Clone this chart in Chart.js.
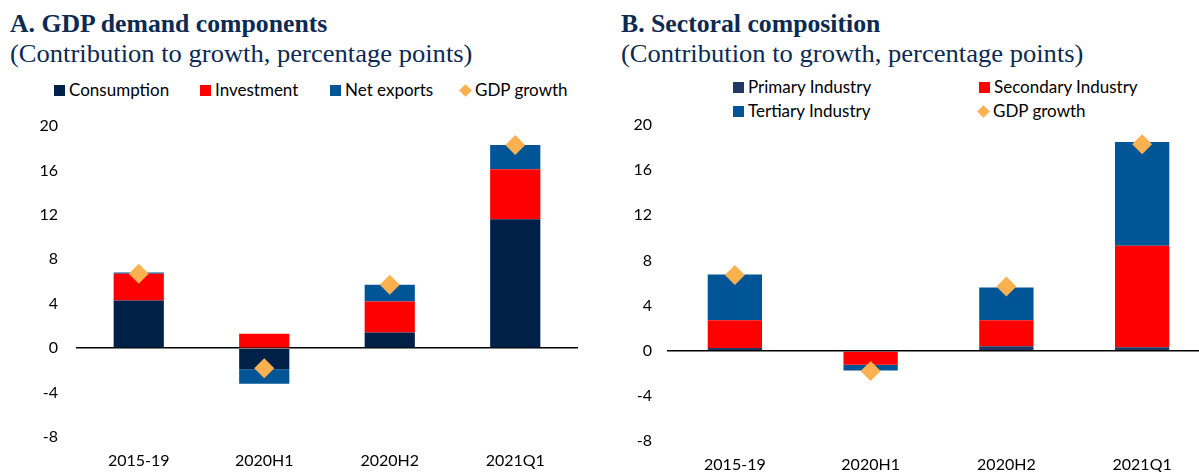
<!DOCTYPE html>
<html>
<head>
<meta charset="utf-8">
<script src="https://cdn.jsdelivr.net/npm/chart.js@4.4.1/dist/chart.umd.min.js"></script>
<style>
  body { margin: 0; width: 1199px; height: 472px; overflow: hidden; background: #fff; position: relative; }
  .ttl { position: absolute; font-family: "Liberation Serif", serif; color: #0c2a52; white-space: nowrap; font-size: 24.5px; line-height: 28px; transform-origin: 0 0; }
  .ttl.main { font-weight: bold; transform: scaleX(1.05); }
  .ttl.sub { transform: scaleX(1.084); }
  .leg { position: absolute; font-family: Lato, "Noto Sans", sans-serif; font-size: 17px; color: #000; white-space: nowrap; line-height: 18px; }
  .leg i { position: absolute; width: 11px; height: 11px; top: 4px; }
  .leg i.dia { width: 9px; height: 9px; transform: rotate(45deg); top: 5px; }
  canvas { position: absolute; top: 0; }
</style>
</head>
<body>
<div class="ttl main" style="left:10px; top:10px">A. GDP demand components</div>
<div class="ttl sub" style="left:10px; top:40px">(Contribution to growth, percentage points)</div>
<div class="ttl main" style="left:621px; top:10px">B. Sectoral composition</div>
<div class="ttl sub" style="left:621px; top:40px">(Contribution to growth, percentage points)</div>
<div id="legA"></div>
<div id="legB"></div>
<canvas id="chartA" width="600" height="472" style="left:0; width:600px; height:472px"></canvas>
<canvas id="chartB" width="620" height="472" style="left:600px; width:620px; height:472px"></canvas>
<script>
const periods = ["2015-19", "2020H1", "2020H2", "2021Q1"];

// panel A: demand components
const consumption = [4.3, -1.9, 1.4, 11.6];
const investment = [2.4, 1.3, 2.8, 4.5];
const net_exports = [0.1, -1.3, 1.5, 2.2];
const gdp_growth_a = [6.7, -1.8, 5.7, 18.3];

// panel B: sectors
const primary_ind = [0.25, -0.1, 0.4, 0.3];
const secondary_ind = [2.45, -1.15, 2.3, 9.0];
const tertiary_ind = [4.05, -0.5, 2.9, 9.2];
const gdp_growth_b = [6.7, -1.8, 5.7, 18.3];

const y_ticks = [-8, -4, 0, 4, 8, 12, 16, 20];

const navy = "#002147";
const red = "#ff0000";
const blue = "#005596";
const primary_col = "#203864";
const orange = "#fbb14f";

// legends (html)
function make_legend(id, items) {
    const box = document.getElementById(id);
    items.forEach(it => {
        const d = document.createElement('div');
        d.className = 'leg';
        d.style.left = it.x + 'px';
        d.style.top = it.y + 'px';
        d.style.paddingLeft = '15px';
        const m = document.createElement('i');
        if (it.diamond) m.className = 'dia';
        m.style.left = it.diamond ? '1px' : '0px';
        m.style.background = it.color;
        d.appendChild(m);
        d.appendChild(document.createTextNode(it.label));
        box.appendChild(d);
    });
}
make_legend('legA', [
    {x: 54, y: 81, label: "Consumption", color: navy},
    {x: 200, y: 81, label: "Investment", color: red},
    {x: 330, y: 81, label: "Net exports", color: blue},
    {x: 460, y: 81, label: "GDP growth", color: orange, diamond: true}
]);
make_legend('legB', [
    {x: 733, y: 78, label: "Primary Industry", color: primary_col},
    {x: 979, y: 78, label: "Secondary Industry", color: red},
    {x: 733, y: 102, label: "Tertiary Industry", color: blue},
    {x: 978, y: 102, label: "GDP growth", color: orange, diamond: true}
]);

function make_chart(el, series, gdp, pad, yw, xh, ypad) {
    const datasets = series.map(s => ({
        type: 'bar',
        label: s.label,
        data: s.data,
        backgroundColor: s.color,
        borderWidth: 0,
        barPercentage: 0.8,
        categoryPercentage: 0.5,
        order: 2
    }));
    datasets.push({
        type: 'line',
        label: "GDP growth",
        data: gdp,
        showLine: false,
        pointStyle: 'rectRot',
        pointRadius: 10,
        pointBackgroundColor: orange,
        pointBorderWidth: 0,
        order: 0
    });
    return new Chart(document.getElementById(el), {
        data: { labels: periods, datasets: datasets },
        options: {
            responsive: false,
            animation: false,
            layout: { padding: pad },
            plugins: { legend: { display: false }, tooltip: { enabled: false } },
            scales: {
                x: {
                    stacked: true,
                    grid: { display: false, drawTicks: false },
                    border: { display: false },
                    ticks: { color: "#000", font: { family: "Lato, 'Noto Sans', sans-serif", size: 16 }, padding: 14, maxRotation: 0 },
                    afterFit: sc => { sc.height = xh; }
                },
                y: {
                    stacked: true,
                    min: -8, max: 20,
                    afterBuildTicks: sc => { sc.ticks = y_ticks.map(v => ({value: v})); },
                    grid: {
                        drawTicks: false,
                        color: c => c.tick && c.tick.value === 0 ? "#000" : "rgba(0,0,0,0)",
                        lineWidth: 1.5
                    },
                    border: { display: false },
                    ticks: { color: "#000", font: { family: "Lato, 'Noto Sans', sans-serif", size: 16 }, padding: ypad },
                    afterFit: sc => { sc.width = yw; }
                }
            }
        }
    });
}

make_chart('chartA', [
    {label: "Consumption", data: consumption, color: navy},
    {label: "Investment", data: investment, color: red},
    {label: "Net exports", data: net_exports, color: blue}
], gdp_growth_a, {top: 126, right: 22, left: 0, bottom: 0}, 76, 35, 18);

make_chart('chartB', [
    {label: "Primary Industry", data: primary_ind, color: primary_col},
    {label: "Secondary Industry", data: secondary_ind, color: red},
    {label: "Tertiary Industry", data: tertiary_ind, color: blue}
], gdp_growth_b, {top: 125, right: 7, left: 0, bottom: 0}, 67, 31, 15);
</script>
</body>
</html>
